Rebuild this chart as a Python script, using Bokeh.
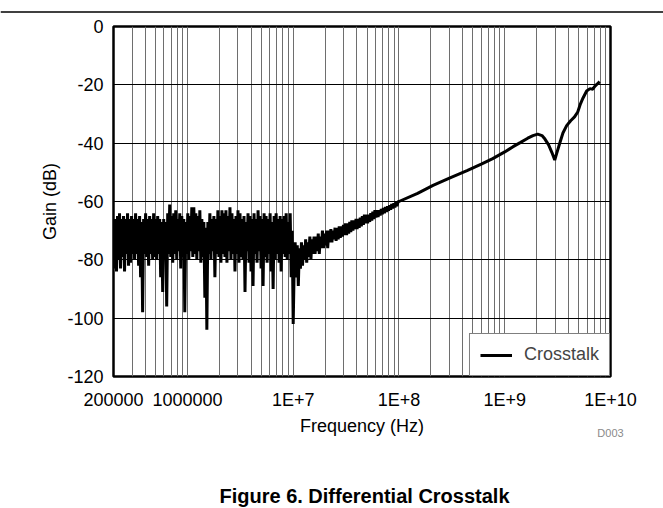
import numpy as np
from bokeh.plotting import figure
from bokeh.models import FixedTicker, LogAxis, Span
from bokeh.layouts import column
from bokeh.core.properties import value
from bokeh.embed import file_html
from bokeh.resources import INLINE

# ---- data ----
# noisy low-frequency part: 2e5 .. 1e7 Hz
noise_gain = [
    -70, -83, -66, -84, -65, -80, -64, -83, -66, -79,
    -65, -84, -66, -78, -64, -82, -66, -81, -65, -78,
    -66, -80, -64, -78, -66, -82, -65, -86, -67, -98,
    -66, -78, -64, -79, -66, -82, -65, -78, -66, -80,
    -64, -79, -66, -80, -65, -78, -66, -86, -67, -91,
    -66, -80, -67, -96, -64, -78, -61, -79, -65, -81,
    -64, -78, -63, -80, -66, -77, -64, -83, -65, -79,
    -66, -98, -67, -78, -64, -80, -65, -77, -62, -79,
    -62, -78, -64, -80, -65, -77, -63, -81, -66, -79,
    -67, -93, -69, -104, -67, -78, -64, -80, -66, -77,
    -65, -86, -66, -78, -63, -79, -65, -81, -63, -78,
    -64, -79, -63, -81, -65, -77, -62, -80, -64, -78,
    -66, -84, -65, -78, -63, -81, -64, -79, -66, -80,
    -65, -91, -67, -77, -64, -81, -65, -84, -66, -89,
    -64, -78, -66, -81, -63, -77, -65, -83, -66, -89,
    -64, -79, -65, -81, -66, -78, -64, -84, -67, -90,
    -65, -80, -64, -78, -66, -81, -65, -84, -66, -78,
    -65, -79, -64, -80, -67, -78, -64, -86, -70, -102,
]
noise_freq = np.geomspace(2e5, 1e7, len(noise_gain))

# rising, slightly noisy part: 1e7 .. 1e8 Hz
rise_gain = [
    -84, -74, -86, -75, -89, -76, -83, -74, -82, -75,
    -80, -73, -81, -74, -79, -72, -80, -73, -78, -72,
    -78, -72, -77, -71, -78, -72, -76, -70, -76, -71,
    -75, -70, -76, -70, -74, -69.5, -74, -70, -73, -69,
    -73.5, -69, -73, -68.5, -72.5, -68.5, -72, -68, -71.5, -67.5,
    -71.5, -67.5, -71, -67, -70.5, -66.5, -70, -66.5, -69.5, -66,
    -69.5, -66, -69, -65.5, -68.5, -65, -68, -64.5, -67.5, -64.5,
    -67.5, -64.5, -67, -64, -66.5, -63.5, -66, -63, -65.5, -63,
    -65.3, -63, -64.8, -62.6, -64.4, -62.2, -64, -61.9, -63.6, -61.6,
    -63.2, -61.3, -62.8, -60.9, -62.4, -60.6, -62, -60.2, -61.6, -60.1,
]
rise_freq = np.geomspace(1.02e7, 9.8e7, len(rise_gain))

# smooth high-frequency part
hf_freq = [1.0e8, 1.5e8, 2.1e8, 3.0e8, 4.4e8, 6.0e8, 7.7e8, 1.0e9, 1.2e9, 1.4e9,
           1.65e9, 1.85e9, 2.05e9, 2.25e9, 2.4e9, 2.6e9, 2.8e9, 2.97e9, 3.1e9, 3.3e9,
           3.55e9, 3.85e9, 4.2e9, 4.57e9, 4.9e9, 5.2e9, 5.5e9, 5.95e9, 6.4e9, 6.8e9,
           7.1e9, 7.5e9, 7.9e9]
hf_gain = [-60.0, -57.2, -54.5, -52.0, -49.4, -47.2, -45.3, -43.0, -41.2, -39.8,
           -38.3, -37.4, -36.9, -37.4, -38.6, -40.6, -43.3, -45.8, -43.5, -40.2,
           -36.5, -34.0, -32.3, -31.0, -29.3, -26.5, -24.5, -22.1, -21.3, -21.5,
           -20.5, -19.7, -18.9]

freq = np.concatenate([noise_freq, rise_freq, np.array(hf_freq)])
gain = np.concatenate([np.array(noise_gain, float), np.array(rise_gain, float), np.array(hf_gain)])

x_ticks = [200000, 1000000, 10**7, 10**8, 10**9, 10**10]
x_tick_labels = ["200000", "1000000", "1E+7", "1E+8", "1E+9", "1E+10"]
y_ticks = [0, -20, -40, -60, -80, -100, -120]
y_tick_labels = ["0", "-20", "-40", "-60", "-80", "-100", "-120"]
minor_x = [m * 10**e for e in range(5, 10) for m in range(2, 10) if 2e5 < m * 10**e < 1e10]

FONT = "Liberation Sans"
FS = "18px"
W = 663
L, R = 113, 53          # left / right borders of the chart frame
TOP_H = 14
MAIN_H = 12 + 353 + 62
CAP_H = 508 - TOP_H - MAIN_H

# ---- top strip with the page rule ----
top = figure(width=W, height=TOP_H, x_range=(0, 1), y_range=(0, TOP_H),
             x_axis_location=None, y_axis_location=None,
             output_backend="svg", toolbar_location=None, min_border=0,
             frame_align=False)
top.outline_line_color = None
top.grid.visible = False
top.add_layout(Span(location=2.5, dimension="width", line_color="black", line_width=1.5))

# ---- main chart ----
p = figure(width=W, height=MAIN_H, x_axis_type="log",
           x_range=(2e5, 1e10), y_range=(-120, 0),
           output_backend="svg", toolbar_location=None,
           min_border_left=L, min_border_right=R,
           min_border_top=12, min_border_bottom=62)

p.line(freq, gain, line_color="black", line_width=3, legend_label="Crosstalk")

xa = p.xaxis[0]
ya = p.yaxis[0]
xa.ticker = FixedTicker(ticks=x_ticks, minor_ticks=minor_x)
ya.ticker = FixedTicker(ticks=y_ticks)
xa.major_label_overrides = {t: l for t, l in zip(x_ticks, x_tick_labels)}
ya.major_label_overrides = {t: l for t, l in zip(y_ticks, y_tick_labels)}

for ax in (xa, ya):
    ax.axis_line_color = None
    ax.major_tick_line_color = None
    ax.minor_tick_line_color = None
    ax.major_tick_out = 0
    ax.major_tick_in = 0
    ax.minor_tick_out = 0
    ax.minor_tick_in = 0
    ax.major_label_text_font = FONT
    ax.major_label_text_font_size = FS
    ax.major_label_text_color = "black"
    ax.axis_label_text_font = FONT
    ax.axis_label_text_font_size = FS
    ax.axis_label_text_font_style = "normal"
    ax.axis_label_text_color = "black"

xa.axis_label = "Frequency (Hz)"
ya.axis_label = "Gain (dB)"
ya.major_label_standoff = 10
ya.axis_label_standoff = 4
xa.major_label_standoff = 13
xa.axis_label_standoff = 3

# small gray figure id under the right end of the x axis
d_ax = LogAxis(ticker=FixedTicker(ticks=[10**10]),
               major_label_overrides={10**10: "D003"},
               axis_line_color=None, major_tick_line_color=None,
               minor_tick_line_color=None, major_tick_out=0, major_tick_in=0,
               minor_tick_out=0, minor_tick_in=0,
               major_label_standoff=-12, major_label_text_font=FONT,
               major_label_text_font_size="11px", major_label_text_color="#8a8a8a")
p.below = [xa, d_ax]

p.xgrid.grid_line_color = "#6e6e6e"
p.xgrid.grid_line_width = 1
p.xgrid.minor_grid_line_color = "#6e6e6e"
p.xgrid.minor_grid_line_width = 1
p.ygrid.grid_line_color = "black"
p.ygrid.grid_line_width = 1

p.outline_line_color = "black"
p.outline_line_width = 2.5
p.background_fill_color = "white"
p.border_fill_color = "white"

lg = p.legend[0]
lg.location = "bottom_right"
lg.margin = 0
lg.padding = 10
lg.spacing = 0
lg.border_line_color = "black"
lg.border_line_width = 1.5
lg.background_fill_alpha = 1
lg.label_text_font = FONT
lg.label_text_font_size = FS
lg.glyph_width = 32
lg.label_standoff = 12

# ---- caption strip (x data = page pixels) ----
cap = figure(width=W, height=CAP_H, x_range=(L, W - R), y_range=(0, CAP_H),
             x_axis_location=None, y_axis_location=None,
             output_backend="svg", toolbar_location=None,
             min_border_left=L, min_border_right=R, min_border_top=0, min_border_bottom=0)
cap.outline_line_color = None
cap.grid.visible = False
cap.text(x=[364], y=[CAP_H - 54], text=["Figure 6. Differential Crosstalk"],
         text_font=value(FONT), text_font_size="20px", text_font_style="bold",
         text_align="center", text_baseline="middle", text_color="black")

layout = column(top, p, cap, spacing=0)
open("out.html", "w").write(file_html(layout, INLINE))
